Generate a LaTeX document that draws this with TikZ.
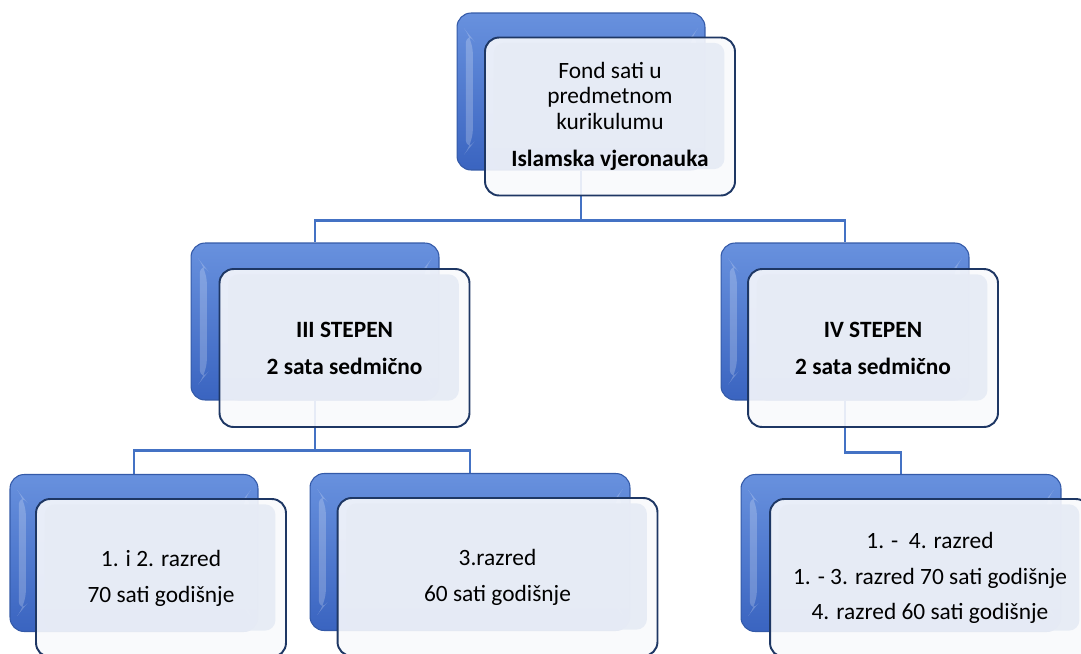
\documentclass[tikz,border=0pt]{standalone}
\usepackage{fontspec}
\setmainfont{Carlito}
\usetikzlibrary{backgrounds}
\definecolor{backtop}{RGB}{104,145,222}
\definecolor{backbottom}{RGB}{58,100,192}
\definecolor{backline}{RGB}{52,90,168}
\definecolor{frontfill}{RGB}{248,249,252}
\definecolor{innerfill}{RGB}{230,235,245}
\definecolor{frontline}{RGB}{30,55,100}
\definecolor{linkblue}{RGB}{68,114,196}

\begin{document}
\begin{tikzpicture}[x=0.02cm,y=-0.02cm,
  backbox/.style={rectangle,rounded corners=8pt,draw=backline,line width=0.6pt,top color=backtop,bottom color=backbottom,minimum width=4.96cm,minimum height=3.14cm,
    path picture={
      \fill[white,opacity=.22] ([xshift=5pt,yshift=-10pt]path picture bounding box.north west) -- ([xshift=9pt,yshift=-15pt]path picture bounding box.north west) -- ([xshift=9pt,yshift=15pt]path picture bounding box.south west) -- ([xshift=5pt,yshift=10pt]path picture bounding box.south west) -- cycle;
      \fill[white,opacity=.22] ([xshift=-5pt,yshift=-10pt]path picture bounding box.north east) -- ([xshift=-9pt,yshift=-15pt]path picture bounding box.north east) -- ([xshift=-9pt,yshift=15pt]path picture bounding box.south east) -- ([xshift=-5pt,yshift=10pt]path picture bounding box.south east) -- cycle;}},
  frontbox/.style={rectangle,rounded corners=8pt,draw=frontline,line width=1.1pt,fill=frontfill,fill opacity=0.9,text opacity=1,minimum width=5cm,minimum height=3.16cm,align=center,font=\fontsize{13.3}{14.4}\selectfont,
    path picture={
      \fill[innerfill,rounded corners=6pt] ([xshift=5pt,yshift=15pt]path picture bounding box.south west) rectangle ([xshift=-6pt,yshift=-3pt]path picture bounding box.north east);}},
  wide/.style={minimum width=6.4cm},
  conn/.style={draw=linkblue,line width=1.3pt}]
  \clip (0,0) rectangle (1081,653);

  \node (fondback) at (581,91.5) [backbox]{};
  \node (fondfront) at (610,116.5) [frontbox]{Fond sati u\\predmetnom\\kurikulumu\\[7pt]\textbf{Islamska vjeronauka}};

  \node (s3back) at (315,321.5) [backbox]{};
  \node (s3front) at (344.5,348) [frontbox]{\textbf{III STEPEN}\\[6.6pt]\textbf{2 sata sedmično}};
  \node (s4back) at (845,321.5) [backbox]{};
  \node (s4front) at (873,348) [frontbox]{\textbf{IV STEPEN}\\[6.6pt]\textbf{2 sata sedmično}};

  \node (r12back) at (134,553) [backbox]{};
  \node (r12front) at (161,578) [frontbox]{1. i 2. razred\\[6pt]70 sati godišnje};
  \node (r3back) at (470,552) [backbox,wide]{};
  \node (r3front) at (497.5,577) [frontbox,wide]{3.razred\\[6pt]60 sati godišnje};
  \node (r14back) at (901,553) [backbox,wide]{};
  \node (r14front) at (930,578) [frontbox,wide]{1. -~ 4. razred\\[6pt]1. - 3. razred 70 sati godišnje\\[6pt]4. razred 60 sati godišnje};

  \begin{scope}[on background layer]
    \draw [conn] (fondback.south) -- ++(0,50) -| (s3back.north);
    \draw [conn] (fondback.south) -- ++(0,50) -| (s4back.north);
    \draw [conn] (s3back.south) -- ++(0,50) -| (r12back.north);
    \draw [conn] (s3back.south) -- ++(0,50) -| (r3back.north);
    \draw [conn] (s4back.south) -- ++(0,52) -| (r14back.north);
  \end{scope}
\end{tikzpicture}
\end{document}
